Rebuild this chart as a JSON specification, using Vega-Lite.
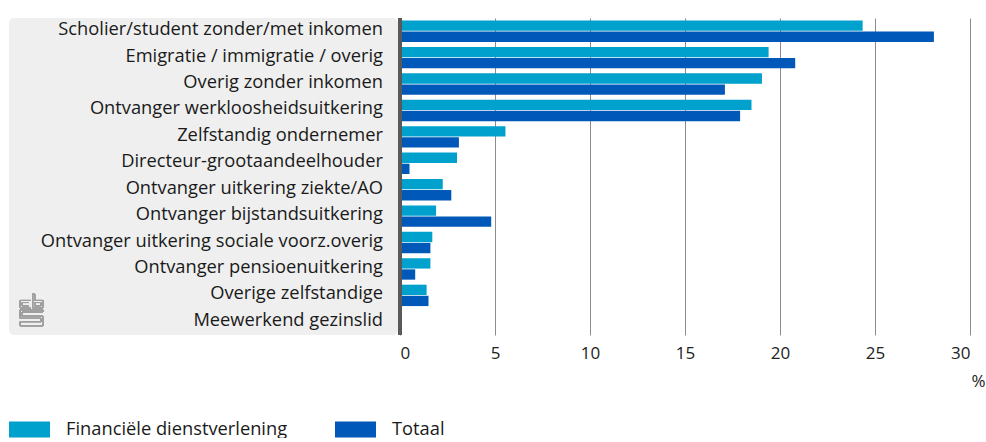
{
  "$schema": "https://vega.github.io/schema/vega-lite/v6.json",
  "background": "white",
  "padding": {"left": 9, "top": 16, "right": 0, "bottom": 0},
  "config": {"view": {"stroke": null}, "font": "Open Sans"},
  "datasets": {
    "rows": [
      {"cat": "Scholier/student zonder/met inkomen", "series": "Financiële dienstverlening", "value": 24.35},
      {"cat": "Scholier/student zonder/met inkomen", "series": "Totaal", "value": 28.1},
      {"cat": "Emigratie / immigratie / overig", "series": "Financiële dienstverlening", "value": 19.4},
      {"cat": "Emigratie / immigratie / overig", "series": "Totaal", "value": 20.8},
      {"cat": "Overig zonder inkomen", "series": "Financiële dienstverlening", "value": 19.05},
      {"cat": "Overig zonder inkomen", "series": "Totaal", "value": 17.1},
      {"cat": "Ontvanger werkloosheidsuitkering", "series": "Financiële dienstverlening", "value": 18.5},
      {"cat": "Ontvanger werkloosheidsuitkering", "series": "Totaal", "value": 17.9},
      {"cat": "Zelfstandig ondernemer", "series": "Financiële dienstverlening", "value": 5.55},
      {"cat": "Zelfstandig ondernemer", "series": "Totaal", "value": 3.1},
      {"cat": "Directeur-grootaandeelhouder", "series": "Financiële dienstverlening", "value": 3.0},
      {"cat": "Directeur-grootaandeelhouder", "series": "Totaal", "value": 0.5},
      {"cat": "Ontvanger uitkering ziekte/AO", "series": "Financiële dienstverlening", "value": 2.25},
      {"cat": "Ontvanger uitkering ziekte/AO", "series": "Totaal", "value": 2.7},
      {"cat": "Ontvanger bijstandsuitkering", "series": "Financiële dienstverlening", "value": 1.9},
      {"cat": "Ontvanger bijstandsuitkering", "series": "Totaal", "value": 4.8},
      {"cat": "Ontvanger uitkering sociale voorz.overig", "series": "Financiële dienstverlening", "value": 1.7},
      {"cat": "Ontvanger uitkering sociale voorz.overig", "series": "Totaal", "value": 1.6},
      {"cat": "Ontvanger pensioenuitkering", "series": "Financiële dienstverlening", "value": 1.6},
      {"cat": "Ontvanger pensioenuitkering", "series": "Totaal", "value": 0.8},
      {"cat": "Overige zelfstandige", "series": "Financiële dienstverlening", "value": 1.4},
      {"cat": "Overige zelfstandige", "series": "Totaal", "value": 1.5},
      {"cat": "Meewerkend gezinslid", "series": "Financiële dienstverlening", "value": 0},
      {"cat": "Meewerkend gezinslid", "series": "Totaal", "value": 0}
    ]
  },
  "spacing": 0,
  "hconcat": [
    {
      "width": 389,
      "height": 317,
      "view": {"fill": "#efefef", "stroke": null, "cornerRadius": 5},
      "data": {"name": "rows"},
      "transform": [{"filter": "datum.series === 'Totaal'"}],
      "resolve": {"scale": {"y": "independent"}},
      "layer": [
        {
          "mark": {"type": "text", "align": "right", "baseline": "middle", "dx": -15, "dy": -1, "fontSize": 18.3, "font": "Open Sans", "color": "#1a1a1a"},
          "encoding": {
            "y": {"field": "cat", "type": "nominal", "sort": null, "scale": {"paddingInner": 0.19, "paddingOuter": 0.095}, "axis": null},
            "x": {"datum": 1, "type": "quantitative", "scale": {"domain": [0, 1]}, "axis": null},
            "text": {"field": "cat", "type": "nominal"}
          }
        },
        {
          "mark": {"type": "point", "filled": false, "stroke": "#a0a0a0", "strokeWidth": 0.8, "size": 1000, "opacity": 1,
            "shape": "M-0.07,-0.6 H-0.72 V-0.13 H-0.07 M-0.2,-0.47 H-0.59 V-0.26 H-0.2 M0.07,-1 V-0.13 H0.72 V-0.6 H0.2 V-1 Z M0.2,-0.47 H0.59 V-0.26 H0.2 Z M0.72,0 H-0.72 V0.53 H0.59 V0.74 H-0.72 V1 H0.72 V0.4 H-0.59 V0.13 H0.72 Z"},
          "encoding": {
            "x": {"datum": 0.058, "type": "quantitative"},
            "y": {"datum": 0.079, "type": "quantitative", "scale": {"domain": [0, 1]}, "axis": null}
          }
        }
      ]
    },
    {
      "width": 570,
      "height": 317,
      "data": {"name": "rows"},
      "layer": [
        {
          "mark": {"type": "bar"},
          "encoding": {
            "x": {
              "field": "value", "type": "quantitative",
              "scale": {"domain": [0, 30], "nice": false},
              "axis": {
                "values": [0, 5, 10, 15, 20, 25, 30],
                "grid": true, "gridColor": "#8c8c8c", "gridWidth": 1,
                "domain": false, "ticks": false,
                "labelPadding": 10, "labelFontSize": 17, "labelFont": "Open Sans", "labelColor": "#222222",
                "title": "%", "titleX": 578, "titleY": 51, "titleAlign": "center", "titleBaseline": "alphabetic",
                "titleFontWeight": "normal", "titleFontSize": 17, "titleFont": "Open Sans", "titleColor": "#222222"
              }
            },
            "y": {"field": "cat", "type": "nominal", "sort": null, "scale": {"paddingInner": 0.19, "paddingOuter": 0.095}, "axis": null},
            "yOffset": {"field": "series", "type": "nominal", "sort": ["Financiële dienstverlening", "Totaal"], "scale": {"paddingInner": 0.07}},
            "color": {
              "field": "series", "type": "nominal",
              "scale": {"domain": ["Financiële dienstverlening", "Totaal"], "range": ["#00a1cd", "#0058b8"]},
              "legend": {
                "orient": "none", "legendX": 0, "legendY": 391, "direction": "horizontal",
                "title": null, "padding": 0,
                "symbolType": "M-1,-0.39 H1 V0.39 H-1 Z", "symbolSize": 1681, "symbolStrokeWidth": 0, "symbolOpacity": 1,
                "labelFontSize": 18.3, "labelFont": "Open Sans", "labelColor": "#1a1a1a", "labelOffset": 16, "labelLimit": 400,
                "columnPadding": 47
              }
            }
          }
        },
        {
          "mark": {"type": "rule", "color": "#595959", "strokeWidth": 4},
          "encoding": {"x": {"datum": 0, "type": "quantitative"}}
        }
      ]
    }
  ]
}
